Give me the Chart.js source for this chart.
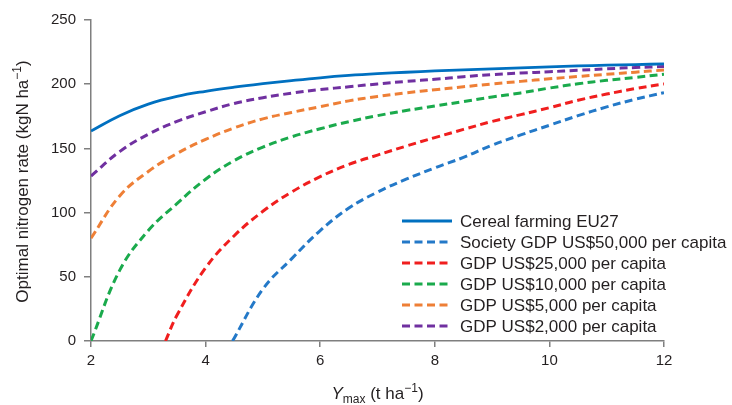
<!DOCTYPE html>
<html>
<head>
<meta charset="utf-8">
<script src="https://cdn.jsdelivr.net/npm/chart.js@4.4.1/dist/chart.umd.min.js"></script>
<style>
  html, body { margin: 0; padding: 0; background: #ffffff; }
  #wrap { width: 732px; height: 405px; position: relative; }
</style>
</head>
<body>
<div id="wrap"><canvas id="chart" width="732" height="405"></canvas></div>
<script>
// Maximum attainable yield (t/ha) grid shared by most curves
const yMaxGrid = [2, 2.5, 3, 3.5, 4, 4.5, 5, 5.5, 6, 6.5, 7, 7.5, 8, 8.5, 9, 9.5, 10, 10.5, 11, 11.5, 12];

// Optimal nitrogen rate (kgN/ha)
const cerealEU27 = [163.5, 175.5, 184.5, 190.5, 194.5, 197.7, 200.4, 202.8, 205, 206.8, 208.2, 209.3, 210.3, 211.2, 212, 212.7, 213.5, 214.2, 214.8, 215.3, 215.8];
const gdp2000   = [128.5, 147.5, 161, 171, 178.5, 185, 189.5, 193, 195.8, 198, 200.2, 202.2, 203.8, 205.8, 207.5, 208.7, 209.7, 210.8, 212, 213, 213.8];
const gdp5000   = [80, 113, 132, 146, 157, 166, 173, 178, 182.5, 187, 190.5, 193.3, 195.7, 198, 200.2, 202.2, 204.2, 206, 207.7, 209.4, 211];
const gdp10000  = [0, 55, 86, 107, 126, 140.5, 151, 159, 165.3, 170.8, 175.5, 179.5, 183, 186.5, 190, 193.2, 197, 200.3, 203, 205.3, 207.7];

// Curves that only start once the yield is high enough
const gdp25000X = [3.3, 3.5, 4, 4.5, 5, 5.5, 6, 6.5, 7, 7.5, 8, 8.5, 9, 9.5, 10, 10.5, 11, 11.5, 12];
const gdp25000  = [0, 20, 57, 82, 101, 116, 128, 137.5, 144.8, 151.8, 158.4, 164.8, 171, 176.3, 181.7, 187.5, 192.3, 196.6, 200.2];
const gdp50000X = [4.47, 5, 5.5, 6, 6.5, 7, 7.5, 8, 8.5, 9, 9.5, 10, 10.5, 11, 11.5, 12];
const gdp50000  = [0, 40.5, 64, 86, 103.5, 116, 126, 134.8, 143, 152.5, 160.5, 168, 175.5, 182.3, 188.3, 193.4];

const seriesLabels = [
  'Cereal farming EU27',
  'Society GDP US$50,000 per capita',
  'GDP US$25,000 per capita',
  'GDP US$10,000 per capita',
  'GDP US$5,000 per capita',
  'GDP US$2,000 per capita'
];

const xTicks = [2, 4, 6, 8, 10, 12];
const yTicks = [0, 50, 100, 150, 200, 250];

const FONT = "'Liberation Sans', Arial, Helvetica, sans-serif";
const TEXT = '#231f20';
const AXIS = '#7f7f7f';
const DASH = [8, 4.5];

function pts(xs, ys) { return xs.map((x, i) => ({ x: x, y: ys[i] })); }

function line(label, xs, ys, color, dashed) {
  return {
    label: label,
    data: pts(xs, ys),
    borderColor: color,
    backgroundColor: color,
    borderWidth: dashed ? 3 : 2.8,
    borderDash: dashed ? DASH : [],
    pointRadius: 0,
    fill: false,
    tension: 0.4
  };
}

const datasets = [
  line(seriesLabels[0], yMaxGrid, cerealEU27, '#0070C0', false),
  line(seriesLabels[1], gdp50000X, gdp50000, '#2479C8', true),
  line(seriesLabels[2], gdp25000X, gdp25000, '#F01E1E', true),
  line(seriesLabels[3], yMaxGrid, gdp10000, '#1AAA4C', true),
  line(seriesLabels[4], yMaxGrid, gdp5000, '#EE7F36', true),
  line(seriesLabels[5], yMaxGrid, gdp2000, '#7030A0', true)
];

// Draws a row of text pieces with their own font and baseline shift
function drawRuns(ctx, runs, x, y, align) {
  let total = 0;
  runs.forEach(r => { ctx.font = r.font; total += ctx.measureText(r.text).width; });
  let cx = align === 'center' ? x - total / 2 : x;
  runs.forEach(r => {
    ctx.font = r.font;
    ctx.fillText(r.text, cx, y + (r.dy || 0));
    cx += ctx.measureText(r.text).width;
  });
}

const decorations = {
  id: 'decorations',
  afterDraw(chart) {
    const ctx = chart.ctx;
    const area = chart.chartArea;
    ctx.save();
    ctx.fillStyle = TEXT;
    ctx.textBaseline = 'alphabetic';
    ctx.textAlign = 'left';

    // x-axis title: Y_max (t ha^-1)
    const big = '17px ' + FONT, small = '12px ' + FONT;
    drawRuns(ctx, [
      { text: 'Y', font: 'italic 17px ' + FONT },
      { text: 'max', font: small, dy: 4 },
      { text: ' (t ha', font: big },
      { text: '\u22121', font: small, dy: -7 },
      { text: ')', font: big }
    ], (area.left + area.right) / 2, 399, 'center');

    // y-axis title, rotated
    ctx.save();
    ctx.translate(28, (area.top + area.bottom) / 2 + 1);
    ctx.rotate(-Math.PI / 2);
    drawRuns(ctx, [
      { text: 'Optimal nitrogen rate (kgN ha', font: big },
      { text: '\u22121', font: small, dy: -7 },
      { text: ')', font: big }
    ], 0, 0, 'center');
    ctx.restore();

    // legend inside the plot, lower right
    const lx = area.right - 262, tx = area.right - 204;
    const y0 = area.bottom - 120, step = 21;
    chart.data.datasets.forEach((ds, i) => {
      const y = y0 + i * step;
      ctx.save();
      ctx.strokeStyle = ds.borderColor;
      ctx.lineWidth = ds.borderWidth;
      ctx.setLineDash(ds.borderDash || []);
      ctx.beginPath();
      ctx.moveTo(lx, y);
      ctx.lineTo(lx + 50, y);
      ctx.stroke();
      ctx.restore();
      ctx.font = '17px ' + FONT;
      ctx.textBaseline = 'middle';
      ctx.fillStyle = TEXT;
      ctx.fillText(ds.label, tx, y + 1);
    });
    ctx.restore();
  }
};

new Chart(document.getElementById('chart'), {
  type: 'line',
  data: { datasets: datasets },
  plugins: [decorations],
  options: {
    responsive: false,
    animation: false,
    devicePixelRatio: 1,
    layout: { padding: { top: 20, right: 68, left: 0, bottom: 0 } },
    plugins: { legend: { display: false }, tooltip: { enabled: false } },
    scales: {
      x: {
        type: 'linear',
        min: 2, max: 12,
        afterBuildTicks: s => { s.ticks = xTicks.map(v => ({ value: v })); },
        afterFit: s => { s.height = 64; },
        ticks: { color: TEXT, font: { family: FONT, size: 15 }, padding: 5, maxRotation: 0 },
        grid: { drawOnChartArea: false, drawTicks: true, tickLength: 6, color: AXIS, lineWidth: 1.5 },
        border: { display: true, color: AXIS, width: 1.5 }
      },
      y: {
        type: 'linear',
        min: 0, max: 250,
        afterBuildTicks: s => { s.ticks = yTicks.map(v => ({ value: v })); },
        afterFit: s => { s.width = 91; },
        ticks: { color: TEXT, font: { family: FONT, size: 15 }, padding: 8 },
        grid: { drawOnChartArea: false, drawTicks: true, tickLength: 7, color: AXIS, lineWidth: 1.5 },
        border: { display: true, color: AXIS, width: 1.5 }
      }
    }
  }
});
</script>
</body>
</html>
